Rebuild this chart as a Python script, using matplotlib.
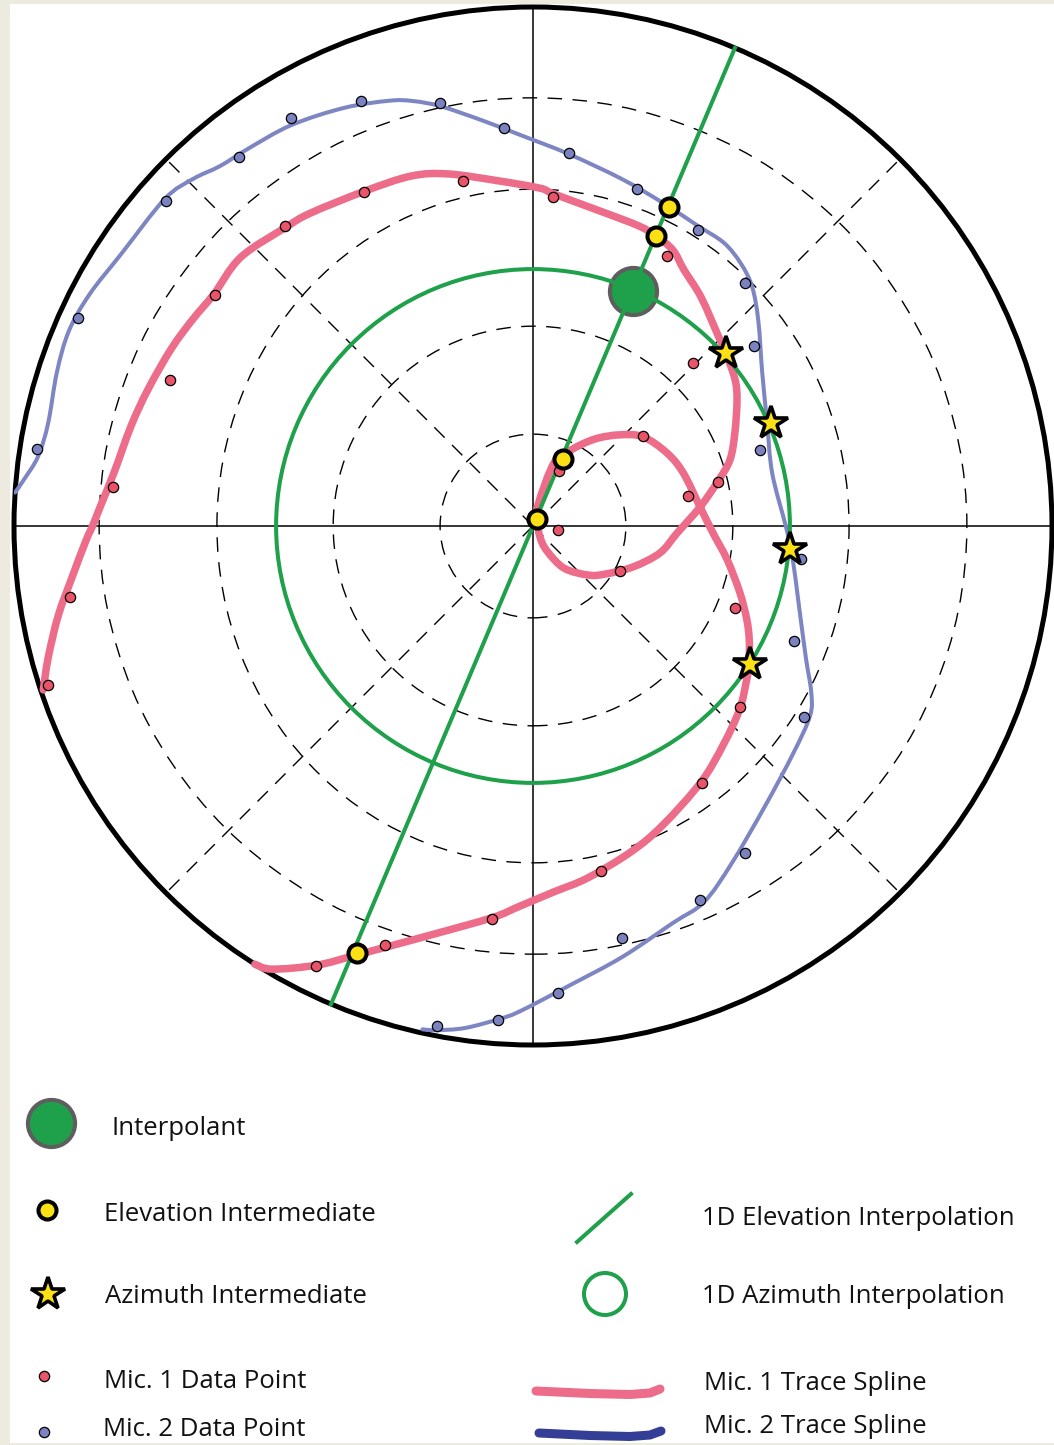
import matplotlib.pyplot as plt
from matplotlib.patches import Circle, Ellipse, Rectangle, PathPatch
from matplotlib.path import Path
import numpy as np

# angles in degrees, counter-clockwise from east; radius 1.0 = horizon

# Mic. 1 measured points
mic1_az = [198.2, 188.7, 174.7, 158.1, 144.0, 129.6, 116.8, 101.5, 86.5, 63.6, 45.5, 13.4,
           332.6, 350.9, 64.7, 39.3, 10.95, 337.9, 318.8, 303.3, 281.2, 264.0, 250.5, 243.7]
mic1_r = [0.983, 0.903, 0.813, 0.754, 0.757, 0.750, 0.721, 0.678, 0.635, 0.581, 0.440, 0.366,
          0.189, 0.049, 0.117, 0.274, 0.304, 0.420, 0.530, 0.593, 0.678, 0.761, 0.856, 0.945]

# Mic. 2 measured points
mic2_az = [171.2, 155.4, 138.5, 128.5, 120.7, 112.0, 102.4, 94.2, 84.5, 72.85, 60.9, 48.9,
           39.2, 18.5, 353.0, 336.2, 324.8, 303.0, 294.1, 282.2, 273.1, 265.9, 259.1]
mic2_r = [0.967, 0.964, 0.945, 0.909, 0.914, 0.883, 0.834, 0.769, 0.722, 0.680, 0.653, 0.621,
          0.549, 0.461, 0.520, 0.550, 0.639, 0.751, 0.789, 0.812, 0.901, 0.954, 0.981]

# Mic. 1 trace spline knots
mic1_trace_az = [198.5, 195.2, 190.7, 186.4, 181.9, 179.9, 177.5, 172.8, 166.0, 160.4, 153.8, 148.7,
                 144.0, 137.4, 129.6, 125.5, 116.6, 109.2, 103.6, 95.6, 88.8, 86.4, 77.0, 70.5,
                 67.0, 63.1, 59.5, 53.7, 45.9, 41.9, 36.0, 31.7, 24.7, 18.5, 13.2, 6.5,
                 -2.8, -12.0, -22.3, -33.7, -41.7, -53.6, -60.8, -57.5, 56.3, 76.6, 71.6, 63.4,
                 54.5, 46.3, 39.0, 28.6, 19.5, 6.5, -2.2, -9.9, -17.9, -23.7, -27.8, -32.8,
                 -36.2, -41.5, -48.8, -56.7, -66.5, -73.1, -81.1, -86.7, -92.0, -96.0, -104.5, -112.3,
                 -116.2, -120.5, -122.4]
mic1_trace_r = [0.995, 0.968, 0.931, 0.894, 0.862, 0.848, 0.835, 0.814, 0.798, 0.787, 0.776, 0.767,
                0.760, 0.765, 0.747, 0.740, 0.722, 0.714, 0.698, 0.668, 0.651, 0.641, 0.619, 0.613,
                0.607, 0.596, 0.573, 0.547, 0.512, 0.499, 0.481, 0.462, 0.428, 0.400, 0.364, 0.324,
                0.278, 0.250, 0.208, 0.167, 0.142, 0.101, 0.055, 0.025, 0.014, 0.042, 0.128, 0.164,
                0.206, 0.243, 0.273, 0.294, 0.307, 0.324, 0.347, 0.380, 0.419, 0.450, 0.471, 0.495,
                0.509, 0.532, 0.558, 0.590, 0.628, 0.655, 0.686, 0.706, 0.733, 0.759, 0.816, 0.893,
                0.943, 0.991, 1.0]

# Mic. 2 trace spline knots
mic2_trace_az = [176.3, 174.8, 172.0, 168.0, 162.1, 157.2, 152.4, 146.6, 138.4, 134.4, 131.0, 127.1,
                 121.1, 114.3, 108.7, 105.8, 102.4, 97.2, 91.9, 84.5, 75.6, 68.1, 61.4, 56.0,
                 51.6, 47.5, 42.3, 33.9, 23.8, 12.5, 0.0, -6.2, -16.7, -25.8, -30.8, -34.4,
                 -41.2, -50.4, -59.6, -65.55, -70.6, -78.3, -85.3, -91.5, -93.9, -97.7, -100.8, -102.4]
mic2_trace_r = [1.0, 0.985, 0.963, 0.955, 0.964, 0.970, 0.964, 0.951, 0.949, 0.936, 0.919, 0.911,
                0.902, 0.884, 0.865, 0.851, 0.828, 0.788, 0.754, 0.720, 0.690, 0.671, 0.660, 0.658,
                0.645, 0.625, 0.587, 0.532, 0.493, 0.472, 0.487, 0.502, 0.535, 0.584, 0.624, 0.647,
                0.666, 0.701, 0.755, 0.796, 0.811, 0.848, 0.887, 0.935, 0.952, 0.976, 0.989, 0.993]

# intermediates and the final interpolant
elev_int_az = [66.9, 67.0, 66.3, 62.0, 247.6]
elev_int_r = [0.669, 0.607, 0.142, 0.016, 0.890]
azim_int_az = [41.8, 23.3, -5.2, -32.5]
azim_int_r = [0.499, 0.500, 0.497, 0.495]
interp_az = [66.9]
interp_r = [0.492]

# 1D interpolation geometry
elev_line_az = 67.1
azim_circle_r = 0.495

# dashed elevation rings (horizontal / vertical semi-axes)
ring_a = [0.179, 0.385, 0.609, 0.836]
ring_b = [0.177, 0.385, 0.649, 0.825]

GREEN = '#1FA04A'
PINK = '#EC6C89'
PINK_DOT = '#E95468'
BLUE = '#7D86C2'
BLUE_DOT = '#7A83C0'
NAVY = '#353E97'
YELLOW = '#FBE114'
GREY = '#5E5E5E'


def to_xy(az, r):
    a = np.radians(np.asarray(az, dtype=float))
    r = np.asarray(r, dtype=float)
    return r * np.cos(a), r * np.sin(a)


def spline_path(x, y):
    # Catmull-Rom through the knots, written as cubic Bezier segments
    p = np.column_stack([x, y])
    ext = np.vstack([p[0], p, p[-1]])
    verts = [p[0]]
    codes = [Path.MOVETO]
    for i in range(len(p) - 1):
        p0, p1, p2, p3 = ext[i], ext[i + 1], ext[i + 2], ext[i + 3]
        verts += [p1 + (p2 - p0) / 6, p2 - (p3 - p1) / 6, p2]
        codes += [Path.CURVE4] * 3
    return Path(verts, codes)


W, H, DPI = 1054, 1445, 100
fig = plt.figure(figsize=(W / DPI, H / DPI), dpi=DPI)
fig.patch.set_facecolor('#EDEBE0')

# page background and legend, in pixel units
bg = fig.add_axes([0, 0, 1, 1])
bg.set_xlim(0, W)
bg.set_ylim(H, 0)
bg.axis('off')
bg.add_patch(Rectangle((10, 4), W - 10, H - 6, facecolor='white', edgecolor='none'))

# sky plot
cx, cy, R = 533, 526, 519
ax = fig.add_axes([(cx - R) / W, (H - cy - R) / H, 2 * R / W, 2 * R / H])
ax.set_xlim(-1, 1)
ax.set_ylim(-1, 1)
ax.set_aspect('equal')
ax.axis('off')

dash = (0, (10.5, 7.5))
for a, b in zip(ring_a, ring_b):
    ax.add_patch(Ellipse((0, 0), 2 * a, 2 * b, fill=False, lw=1.0, ls=dash, ec='black', zorder=1))
for d in [45, 135, 225, 315]:
    x, y = to_xy([d, d], [0, 1])
    ax.plot(x, y, color='black', lw=1.0, ls=dash, zorder=1)
ax.plot([-1, 1], [0, 0], color='black', lw=1.1, zorder=1.5)
ax.plot([0, 0], [-1, 1], color='black', lw=1.1, zorder=1.5)
ax.add_patch(Circle((0, 0), 1, fill=False, lw=3.6, ec='black', zorder=2, clip_on=False))

# traces
x, y = to_xy(mic2_trace_az, mic2_trace_r)
ax.add_patch(PathPatch(spline_path(x, y), fill=False, ec=BLUE, lw=2.9,
                       capstyle='round', joinstyle='round', zorder=3))
x, y = to_xy(mic1_trace_az, mic1_trace_r)
ax.add_patch(PathPatch(spline_path(x, y), fill=False, ec=PINK, lw=5.4,
                       capstyle='round', joinstyle='round', zorder=3.2))

# interpolant, under the 1D interpolation lines
x, y = to_xy(interp_az, interp_r)
ax.plot(x, y, 'o', ms=34, mfc=GREEN, mec=GREY, mew=2.9, zorder=4)

ax.add_patch(Circle((0, 0), azim_circle_r, fill=False, lw=2.9, ec=GREEN, zorder=5))
x, y = to_xy([elev_line_az, elev_line_az + 180], [1, 1])
ax.plot(x, y, color=GREEN, lw=2.9, zorder=5)

# measured points
x, y = to_xy(mic1_az, mic1_r)
ax.plot(x, y, 'o', ms=7.4, mfc=PINK_DOT, mec='black', mew=0.9, ls='none', zorder=6)
x, y = to_xy(mic2_az, mic2_r)
ax.plot(x, y, 'o', ms=7.4, mfc=BLUE_DOT, mec='black', mew=0.9, ls='none', zorder=6)

# intermediates
x, y = to_xy(elev_int_az, elev_int_r)
ax.plot(x, y, 'o', ms=13, mfc=YELLOW, mec='black', mew=2.9, ls='none', zorder=7)
x, y = to_xy(azim_int_az, azim_int_r)
ax.plot(x, y, '*', ms=25, mfc=YELLOW, mec='black', mew=2.6, ls='none', zorder=7)

# legend
font = dict(family='Open Sans', fontsize=18.5, color='#111111', va='baseline', ha='left')

bg.plot([50.5], [1123], 'o', ms=34, mfc=GREEN, mec=GREY, mew=2.9)
bg.text(112, 1135, 'Interpolant', **font)
bg.plot([47], [1210], 'o', ms=13, mfc=YELLOW, mec='black', mew=2.9)
bg.text(104, 1221, 'Elevation Intermediate', **font)
bg.plot([48], [1294], '*', ms=25, mfc=YELLOW, mec='black', mew=2.6)
bg.text(105, 1303, 'Azimuth Intermediate', **font)
bg.plot([44], [1376], 'o', ms=7.4, mfc=PINK_DOT, mec='black', mew=0.9)
bg.text(104, 1388, 'Mic. 1 Data Point', **font)
bg.plot([44], [1432], 'o', ms=7.4, mfc=BLUE_DOT, mec='black', mew=0.9)
bg.text(103, 1436, 'Mic. 2 Data Point', **font)

bg.plot([577, 631], [1242, 1194], color=GREEN, lw=2.9)
bg.text(702, 1225, '1D Elevation Interpolation', **font)
bg.add_patch(Circle((605, 1294), 21, fill=False, lw=2.9, ec=GREEN))
bg.text(702, 1303, '1D Azimuth Interpolation', **font)
bg.plot([536, 590, 630, 650, 660], [1391, 1393.5, 1394.5, 1393, 1389], color=PINK, lw=6.5,
        solid_capstyle='round', solid_joinstyle='round')
bg.text(704, 1390, 'Mic. 1 Trace Spline', **font)
bg.plot([539, 590, 630, 650, 661], [1433, 1435.5, 1436.5, 1435, 1431], color=NAVY, lw=6.5,
        solid_capstyle='round', solid_joinstyle='round')
bg.text(704, 1433, 'Mic. 2 Trace Spline', **font)

fig.savefig('out.png', dpi=DPI, facecolor=fig.get_facecolor())
